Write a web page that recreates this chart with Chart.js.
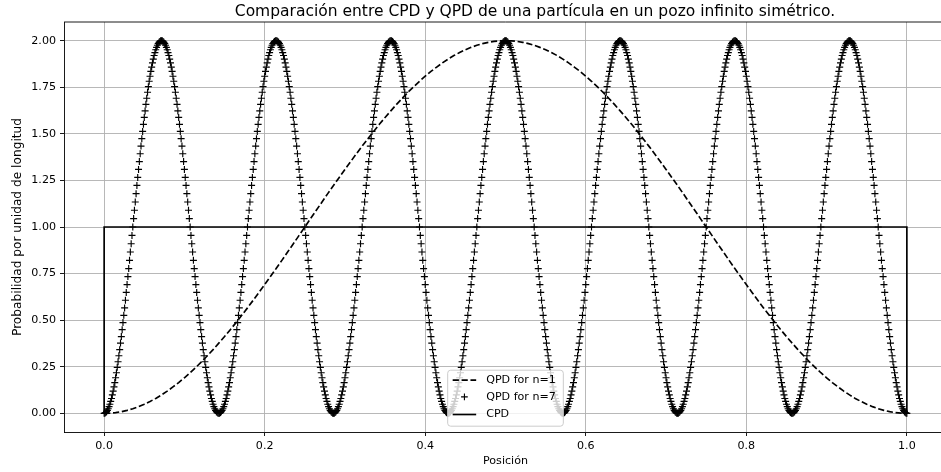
<!DOCTYPE html>
<html><head><meta charset="utf-8">
<script src="https://cdn.jsdelivr.net/npm/chart.js@4.4.1/dist/chart.umd.min.js"></script>
<style>html,body{margin:0;padding:0;overflow:hidden;background:#fff;width:941px;height:472px}canvas{display:block}</style>
</head><body>
<canvas id="c" width="1011" height="472" style="width:1011px;height:472px"></canvas>
<script>
const chartTitle = "Comparación entre CPD y QPD de una partícula en un pozo infinito simétrico.";
const xAxisLabel = "Posición";
const yAxisLabel = "Probabilidad por unidad de longitud";
const seriesNames = ["QPD for n=1", "QPD for n=7", "CPD"];
const xTicks = [0, 0.2, 0.4, 0.6, 0.8, 1.0];
const xTickLabels = ["0.0", "0.2", "0.4", "0.6", "0.8", "1.0"];
const yTicks = [0, 0.25, 0.5, 0.75, 1.0, 1.25, 1.5, 1.75, 2.0];
const yTickLabels = ["0.00", "0.25", "0.50", "0.75", "1.00", "1.25", "1.50", "1.75", "2.00"];

// QPD n=1, evenly spaced positions from 0 to 1 (141 samples)
const qpd1 = [0,0.001,0.004,0.009,0.016,0.025,0.036,0.049,0.064,0.080,0.099,0.119,0.142,0.165,0.191,0.218,0.247,0.277,0.309,0.342,0.377,0.412,0.449,0.487,0.526,0.566,0.607,0.649,0.691,0.734,0.777,0.821,0.866,0.910,0.955,1.000,1.045,1.090,1.134,1.179,1.223,1.266,1.309,1.351,1.393,1.434,1.474,1.513,1.551,1.588,1.623,1.658,1.691,1.723,1.753,1.782,1.809,1.835,1.858,1.881,1.901,1.920,1.936,1.951,1.964,1.975,1.984,1.991,1.996,1.999,2.000,1.999,1.996,1.991,1.984,1.975,1.964,1.951,1.936,1.920,1.901,1.881,1.858,1.835,1.809,1.782,1.753,1.723,1.691,1.658,1.623,1.588,1.551,1.513,1.474,1.434,1.393,1.351,1.309,1.266,1.223,1.179,1.134,1.090,1.045,1.000,0.955,0.910,0.866,0.821,0.777,0.734,0.691,0.649,0.607,0.566,0.526,0.487,0.449,0.412,0.377,0.342,0.309,0.277,0.247,0.218,0.191,0.165,0.142,0.119,0.099,0.080,0.064,0.049,0.036,0.025,0.016,0.009,0.004,0.001,0];

// QPD n=7, evenly spaced positions from 0 to 1 (981 samples)
const qpd7 = [
0,0.001,0.004,0.009,0.016,0.025,0.036,0.049,0.064,0.080,0.099,0.119,0.142,0.165,0.191,0.218,0.247,0.277,0.309,0.342,0.377,0.412,0.449,0.487,0.526,0.566,0.607,0.649,0.691,0.734,0.777,0.821,0.866,0.910,0.955,1.000,1.045,1.090,1.134,1.179,1.223,1.266,1.309,1.351,1.393,1.434,1.474,1.513,1.551,1.588,1.623,1.658,1.691,1.723,1.753,1.782,1.809,1.835,1.858,1.881,1.901,1.920,1.936,1.951,1.964,1.975,1.984,1.991,1.996,1.999,2.000,1.999,1.996,1.991,1.984,1.975,1.964,1.951,1.936,1.920,1.901,1.881,1.858,1.835,1.809,1.782,1.753,1.723,1.691,1.658,1.623,1.588,1.551,1.513,1.474,1.434,1.393,1.351,1.309,1.266,1.223,1.179,1.134,1.090,1.045,1.000,0.955,0.910,0.866,0.821,0.777,0.734,0.691,0.649,0.607,0.566,0.526,0.487,0.449,0.412,0.377,0.342,0.309,0.277,0.247,0.218,0.191,0.165,0.142,0.119,0.099,0.080,0.064,0.049,0.036,0.025,0.016,0.009,0.004,0.001,
0,0.001,0.004,0.009,0.016,0.025,0.036,0.049,0.064,0.080,0.099,0.119,0.142,0.165,0.191,0.218,0.247,0.277,0.309,0.342,0.377,0.412,0.449,0.487,0.526,0.566,0.607,0.649,0.691,0.734,0.777,0.821,0.866,0.910,0.955,1.000,1.045,1.090,1.134,1.179,1.223,1.266,1.309,1.351,1.393,1.434,1.474,1.513,1.551,1.588,1.623,1.658,1.691,1.723,1.753,1.782,1.809,1.835,1.858,1.881,1.901,1.920,1.936,1.951,1.964,1.975,1.984,1.991,1.996,1.999,2.000,1.999,1.996,1.991,1.984,1.975,1.964,1.951,1.936,1.920,1.901,1.881,1.858,1.835,1.809,1.782,1.753,1.723,1.691,1.658,1.623,1.588,1.551,1.513,1.474,1.434,1.393,1.351,1.309,1.266,1.223,1.179,1.134,1.090,1.045,1.000,0.955,0.910,0.866,0.821,0.777,0.734,0.691,0.649,0.607,0.566,0.526,0.487,0.449,0.412,0.377,0.342,0.309,0.277,0.247,0.218,0.191,0.165,0.142,0.119,0.099,0.080,0.064,0.049,0.036,0.025,0.016,0.009,0.004,0.001,
0,0.001,0.004,0.009,0.016,0.025,0.036,0.049,0.064,0.080,0.099,0.119,0.142,0.165,0.191,0.218,0.247,0.277,0.309,0.342,0.377,0.412,0.449,0.487,0.526,0.566,0.607,0.649,0.691,0.734,0.777,0.821,0.866,0.910,0.955,1.000,1.045,1.090,1.134,1.179,1.223,1.266,1.309,1.351,1.393,1.434,1.474,1.513,1.551,1.588,1.623,1.658,1.691,1.723,1.753,1.782,1.809,1.835,1.858,1.881,1.901,1.920,1.936,1.951,1.964,1.975,1.984,1.991,1.996,1.999,2.000,1.999,1.996,1.991,1.984,1.975,1.964,1.951,1.936,1.920,1.901,1.881,1.858,1.835,1.809,1.782,1.753,1.723,1.691,1.658,1.623,1.588,1.551,1.513,1.474,1.434,1.393,1.351,1.309,1.266,1.223,1.179,1.134,1.090,1.045,1.000,0.955,0.910,0.866,0.821,0.777,0.734,0.691,0.649,0.607,0.566,0.526,0.487,0.449,0.412,0.377,0.342,0.309,0.277,0.247,0.218,0.191,0.165,0.142,0.119,0.099,0.080,0.064,0.049,0.036,0.025,0.016,0.009,0.004,0.001,
0,0.001,0.004,0.009,0.016,0.025,0.036,0.049,0.064,0.080,0.099,0.119,0.142,0.165,0.191,0.218,0.247,0.277,0.309,0.342,0.377,0.412,0.449,0.487,0.526,0.566,0.607,0.649,0.691,0.734,0.777,0.821,0.866,0.910,0.955,1.000,1.045,1.090,1.134,1.179,1.223,1.266,1.309,1.351,1.393,1.434,1.474,1.513,1.551,1.588,1.623,1.658,1.691,1.723,1.753,1.782,1.809,1.835,1.858,1.881,1.901,1.920,1.936,1.951,1.964,1.975,1.984,1.991,1.996,1.999,2.000,1.999,1.996,1.991,1.984,1.975,1.964,1.951,1.936,1.920,1.901,1.881,1.858,1.835,1.809,1.782,1.753,1.723,1.691,1.658,1.623,1.588,1.551,1.513,1.474,1.434,1.393,1.351,1.309,1.266,1.223,1.179,1.134,1.090,1.045,1.000,0.955,0.910,0.866,0.821,0.777,0.734,0.691,0.649,0.607,0.566,0.526,0.487,0.449,0.412,0.377,0.342,0.309,0.277,0.247,0.218,0.191,0.165,0.142,0.119,0.099,0.080,0.064,0.049,0.036,0.025,0.016,0.009,0.004,0.001,
0,0.001,0.004,0.009,0.016,0.025,0.036,0.049,0.064,0.080,0.099,0.119,0.142,0.165,0.191,0.218,0.247,0.277,0.309,0.342,0.377,0.412,0.449,0.487,0.526,0.566,0.607,0.649,0.691,0.734,0.777,0.821,0.866,0.910,0.955,1.000,1.045,1.090,1.134,1.179,1.223,1.266,1.309,1.351,1.393,1.434,1.474,1.513,1.551,1.588,1.623,1.658,1.691,1.723,1.753,1.782,1.809,1.835,1.858,1.881,1.901,1.920,1.936,1.951,1.964,1.975,1.984,1.991,1.996,1.999,2.000,1.999,1.996,1.991,1.984,1.975,1.964,1.951,1.936,1.920,1.901,1.881,1.858,1.835,1.809,1.782,1.753,1.723,1.691,1.658,1.623,1.588,1.551,1.513,1.474,1.434,1.393,1.351,1.309,1.266,1.223,1.179,1.134,1.090,1.045,1.000,0.955,0.910,0.866,0.821,0.777,0.734,0.691,0.649,0.607,0.566,0.526,0.487,0.449,0.412,0.377,0.342,0.309,0.277,0.247,0.218,0.191,0.165,0.142,0.119,0.099,0.080,0.064,0.049,0.036,0.025,0.016,0.009,0.004,0.001,
0,0.001,0.004,0.009,0.016,0.025,0.036,0.049,0.064,0.080,0.099,0.119,0.142,0.165,0.191,0.218,0.247,0.277,0.309,0.342,0.377,0.412,0.449,0.487,0.526,0.566,0.607,0.649,0.691,0.734,0.777,0.821,0.866,0.910,0.955,1.000,1.045,1.090,1.134,1.179,1.223,1.266,1.309,1.351,1.393,1.434,1.474,1.513,1.551,1.588,1.623,1.658,1.691,1.723,1.753,1.782,1.809,1.835,1.858,1.881,1.901,1.920,1.936,1.951,1.964,1.975,1.984,1.991,1.996,1.999,2.000,1.999,1.996,1.991,1.984,1.975,1.964,1.951,1.936,1.920,1.901,1.881,1.858,1.835,1.809,1.782,1.753,1.723,1.691,1.658,1.623,1.588,1.551,1.513,1.474,1.434,1.393,1.351,1.309,1.266,1.223,1.179,1.134,1.090,1.045,1.000,0.955,0.910,0.866,0.821,0.777,0.734,0.691,0.649,0.607,0.566,0.526,0.487,0.449,0.412,0.377,0.342,0.309,0.277,0.247,0.218,0.191,0.165,0.142,0.119,0.099,0.080,0.064,0.049,0.036,0.025,0.016,0.009,0.004,0.001,
0,0.001,0.004,0.009,0.016,0.025,0.036,0.049,0.064,0.080,0.099,0.119,0.142,0.165,0.191,0.218,0.247,0.277,0.309,0.342,0.377,0.412,0.449,0.487,0.526,0.566,0.607,0.649,0.691,0.734,0.777,0.821,0.866,0.910,0.955,1.000,1.045,1.090,1.134,1.179,1.223,1.266,1.309,1.351,1.393,1.434,1.474,1.513,1.551,1.588,1.623,1.658,1.691,1.723,1.753,1.782,1.809,1.835,1.858,1.881,1.901,1.920,1.936,1.951,1.964,1.975,1.984,1.991,1.996,1.999,2.000,1.999,1.996,1.991,1.984,1.975,1.964,1.951,1.936,1.920,1.901,1.881,1.858,1.835,1.809,1.782,1.753,1.723,1.691,1.658,1.623,1.588,1.551,1.513,1.474,1.434,1.393,1.351,1.309,1.266,1.223,1.179,1.134,1.090,1.045,1.000,0.955,0.910,0.866,0.821,0.777,0.734,0.691,0.649,0.607,0.566,0.526,0.487,0.449,0.412,0.377,0.342,0.309,0.277,0.247,0.218,0.191,0.165,0.142,0.119,0.099,0.080,0.064,0.049,0.036,0.025,0.016,0.009,0.004,0.001,
0];

// CPD
const cpdX = [0, 0, 1, 1];
const cpdY = [0, 1, 1, 0];

const FONT = '"DejaVu Sans", "Liberation Sans", sans-serif';

function evenly(values) {
  const n = values.length - 1;
  return values.map((y, i) => ({ x: i / n, y }));
}

const decorPlugin = {
  id: 'decor',
  afterDraw(chart) {
    const { ctx, chartArea: a } = chart;
    const midX = (a.left + a.right) / 2;
    ctx.save();
    // top and right spines
    ctx.strokeStyle = '#000';
    ctx.lineWidth = 0.9;
    ctx.beginPath();
    ctx.moveTo(a.left, a.top);
    ctx.lineTo(a.right, a.top);
    ctx.lineTo(a.right, a.bottom);
    ctx.stroke();

    // title (figure-centred)
    ctx.fillStyle = '#000';
    ctx.font = '15.5px ' + FONT;
    ctx.textAlign = 'center';
    ctx.textBaseline = 'middle';
    ctx.fillText(chartTitle, 535, 12);

    // x axis label
    ctx.font = '11.1px ' + FONT;
    ctx.fillText(xAxisLabel, midX, 461);

    // legend
    ctx.font = '11.1px ' + FONT;
    const maxW = Math.max(...seriesNames.map(n => ctx.measureText(n).width));
    const bw = 38.5 + maxW + 7.5;
    const bh = 56;
    const bx = midX - bw / 2;
    const by = a.bottom - 5.8 - bh;
    ctx.beginPath();
    if (ctx.roundRect) ctx.roundRect(bx, by, bw, bh, 3); else ctx.rect(bx, by, bw, bh);
    ctx.fillStyle = 'rgba(255,255,255,0.8)';
    ctx.fill();
    ctx.strokeStyle = '#cccccc';
    ctx.lineWidth = 1;
    ctx.stroke();

    const hx0 = bx + 5, hx1 = bx + 28.5;
    const rowY = [10, 26.7, 44.3];
    seriesNames.forEach((name, i) => {
      const cy = by + rowY[i];
      ctx.strokeStyle = '#000';
      if (i === 0) {
        ctx.lineWidth = 1.67;
        ctx.setLineDash([6.2, 2.7]);
        ctx.beginPath(); ctx.moveTo(hx0, cy); ctx.lineTo(hx1, cy); ctx.stroke();
        ctx.setLineDash([]);
      } else if (i === 1) {
        const cx = (hx0 + hx1) / 2;
        ctx.lineWidth = 1.1;
        ctx.beginPath();
        ctx.moveTo(cx - 3.35, cy); ctx.lineTo(cx + 3.35, cy);
        ctx.moveTo(cx, cy - 3.35); ctx.lineTo(cx, cy + 3.35);
        ctx.stroke();
      } else {
        ctx.lineWidth = 1.67;
        ctx.beginPath(); ctx.moveTo(hx0, cy); ctx.lineTo(hx1, cy); ctx.stroke();
      }
      ctx.fillStyle = '#000';
      ctx.textBaseline = 'middle';
      ctx.textAlign = 'left';
      ctx.fillText(name, bx + 38.5, cy);
    });
    ctx.restore();
  }
};

new Chart(document.getElementById('c'), {
  type: 'line',
  data: {
    datasets: [
      {
        label: seriesNames[0], data: evenly(qpd1),
        borderColor: '#000', borderWidth: 1.67, borderDash: [6.2, 2.7],
        pointRadius: 0, fill: false, tension: 0
      },
      {
        label: seriesNames[1], data: evenly(qpd7),
        showLine: false, pointStyle: 'cross', pointRadius: 3.5,
        pointBorderWidth: 1.15, pointBorderColor: '#000', pointBackgroundColor: '#000',
        borderColor: '#000'
      },
      {
        label: seriesNames[2], data: cpdX.map((x, i) => ({ x, y: cpdY[i] })),
        borderColor: '#000', borderWidth: 1.67, pointRadius: 0, fill: false, tension: 0
      }
    ]
  },
  options: {
    responsive: false,
    animation: false,
    events: [],
    devicePixelRatio: 1,
    layout: { padding: { top: 22, left: 0, right: 64, bottom: 0 } },
    plugins: {
      legend: { display: false },
      tooltip: { enabled: false },
      title: { display: false }
    },
    scales: {
      x: {
        type: 'linear', min: -0.05, max: 1.05,
        afterBuildTicks: s => { s.ticks = xTicks.map(v => ({ value: v })); },
        afterFit: s => { s.height = 40; },
        ticks: {
          color: '#000', font: { family: FONT, size: 11.1 }, padding: 3,
          maxRotation: 0, autoSkip: false,
          callback: v => { const k = xTicks.findIndex(t => Math.abs(t - v) < 1e-9); return k >= 0 ? xTickLabels[k] : ''; }
        },
        grid: { color: '#b0b0b0', lineWidth: 0.9, drawTicks: true, tickLength: 4, tickColor: '#000', tickWidth: 0.9 },
        border: { display: true, color: '#000', width: 0.9 },
        title: { display: false }
      },
      y: {
        type: 'linear', min: -0.1, max: 2.1,
        afterBuildTicks: s => { s.ticks = yTicks.map(v => ({ value: v })); },
        afterFit: s => { s.width = 64; },
        ticks: {
          color: '#000', font: { family: FONT, size: 11.1 }, padding: 4, autoSkip: false,
          callback: v => { const k = yTicks.findIndex(t => Math.abs(t - v) < 1e-9); return k >= 0 ? yTickLabels[k] : ''; }
        },
        grid: { color: '#b0b0b0', lineWidth: 0.9, drawTicks: true, tickLength: 4, tickColor: '#000', tickWidth: 0.9 },
        border: { display: true, color: '#000', width: 0.9 },
        title: { display: true, text: yAxisLabel, color: '#000', font: { family: FONT, size: 12.2 }, padding: { top: 10.5, bottom: 0 } }
      }
    }
  },
  plugins: [decorPlugin]
});
</script>
</body></html>
